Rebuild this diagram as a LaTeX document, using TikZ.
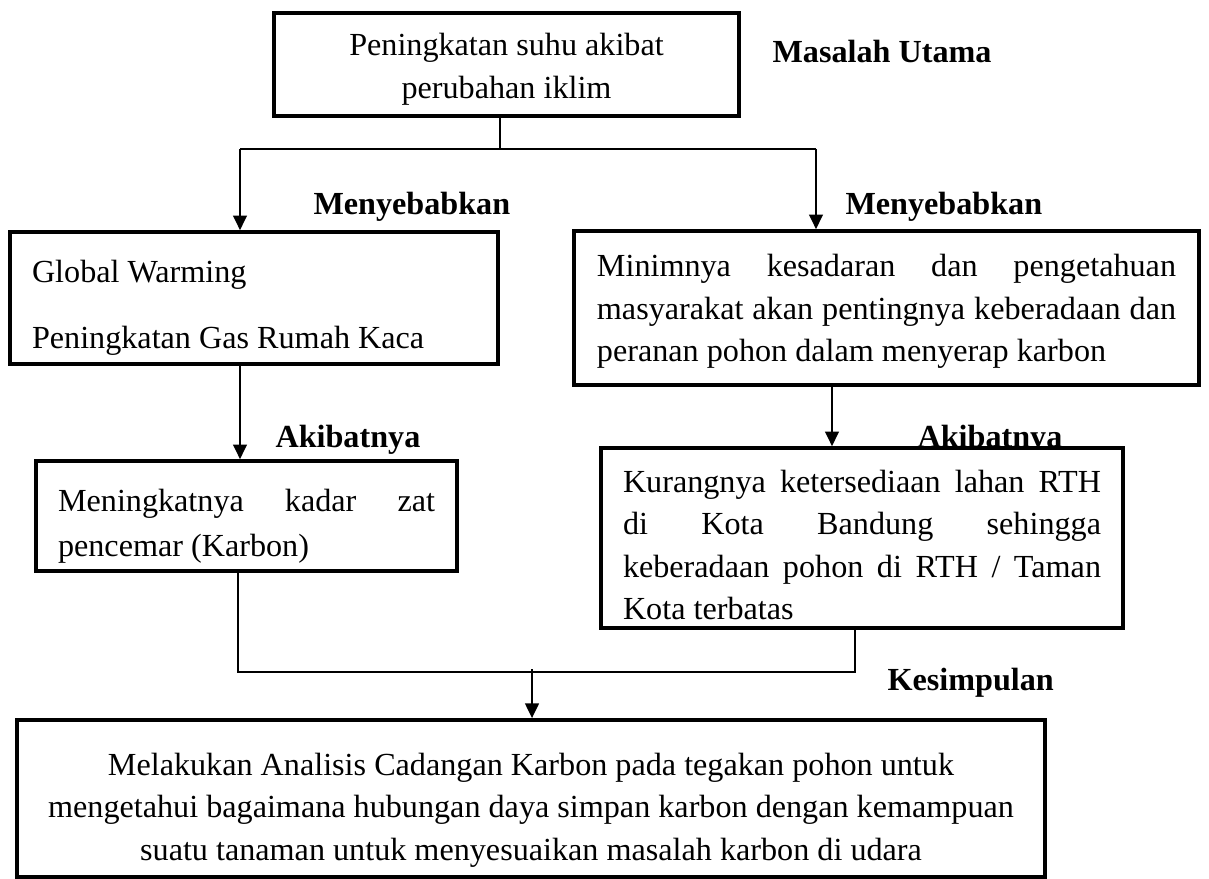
\documentclass[tikz,border=0pt]{standalone}
\usepackage{fontspec}
\setmainfont{Liberation Serif}
\usetikzlibrary{arrows.meta}

% raises the first line so the text sits lower in its box
\newcommand{\tinggi}[1]{\rule{0pt}{#1}}

\begin{document}
\begin{tikzpicture}[x=0.373pt,y=-0.373pt,
  box/.style={draw,line width=1.3pt,fill=white,inner ysep=0pt,font=\fontsize{12}{15.8}\selectfont},
  lbl/.style={anchor=base west,inner sep=0pt,font=\fontsize{12}{15.8}\selectfont\bfseries},
  link/.style={line width=1.05pt},
  arr/.style={line width=1.05pt,-{Triangle[width=5pt,length=5.5pt]}}]

\useasboundingbox (0,0) rectangle (1209,879);

% labels
\node (lmasalah) at (772,63)[lbl] {Masalah Utama};
\node (lsebab1) at (313,215)[lbl] {Menyebabkan};
\node (lsebab2) at (845,215)[lbl] {Menyebabkan};
\node (lakibat1) at (275,447)[lbl] {Akibatnya};
\node (lakibat2) at (917,447)[lbl] {Akibatnya};
\node (lsimpul) at (887,690)[lbl] {Kesimpulan};

% boxes
\node (suhu) at (506.5,64.5)[box,line width=1.7pt,minimum width=173.4pt,minimum height=38.4pt,align=center] {\tinggi{12pt}Peningkatan suhu akibat\\perubahan iklim};
\node (gw) at (254,298)[box,minimum width=182pt,minimum height=49.2pt,text width=165.6pt,inner xsep=8.2pt,align=flush left] {\tinggi{15.5pt}Global Warming\\[9pt]Peningkatan Gas Rumah Kaca};
\node (sadar) at (886.5,308)[box,minimum width=233.1pt,minimum height=57.4pt,text width=216pt,inner xsep=8.55pt,align=justify] {\tinggi{11pt}Minimnya kesadaran dan pengetahuan\linebreak masyarakat akan pentingnya keberadaan dan\linebreak peranan pohon dalam menyerap karbon};
\node (cemar) at (246.5,516)[box,minimum width=157pt,minimum height=41pt,text width=140.6pt,inner xsep=8.2pt,align=justify,font=\fontsize{12}{17}\selectfont] {\tinggi{16pt}Meningkatnya kadar zat\linebreak pencemar (Karbon)};
\node (rth) at (862,538)[box,minimum width=194.7pt,minimum height=67.1pt,text width=178.3pt,inner xsep=8.2pt,align=justify] {\tinggi{13.5pt}Kurangnya ketersediaan lahan RTH\linebreak di Kota Bandung sehingga\linebreak keberadaan pohon di RTH / Taman\linebreak Kota terbatas};
\node (karbon) at (531,798.5)[box,minimum width=383.4pt,minimum height=58.6pt,align=center] {\tinggi{17pt}Melakukan Analisis Cadangan Karbon pada tegakan pohon untuk\\mengetahui bagaimana hubungan daya simpan karbon dengan kemampuan\\suatu tanaman untuk menyesuaikan masalah karbon di udara};

% branch points
\coordinate (cabang) at (500,149);
\coordinate (kiri) at (240,149);
\coordinate (kanan) at (816,149);
\coordinate (turun1) at (240,0);
\coordinate (turun2) at (832,0);
\coordinate (gabung1) at (238,672);
\coordinate (gabung2) at (855,672);
\coordinate (tengah) at (532,669);

% connectors
\draw [link] (suhu.south -| cabang) -- (cabang);
\draw [link] (kiri) -- (kanan);
\draw [arr] (kiri) -- (gw.north -| kiri);
\draw [arr] (kanan) -- (sadar.north -| kanan);
\draw [arr] (gw.south -| turun1) -- (cemar.north -| turun1);
\draw [arr] (sadar.south -| turun2) -- (rth.north -| turun2);
\draw [link] (cemar.south -| gabung1) -- (gabung1) -- (gabung2) -- (rth.south -| gabung2);
\draw [arr] (tengah) -- (karbon.north -| tengah);
\end{tikzpicture}
\end{document}
